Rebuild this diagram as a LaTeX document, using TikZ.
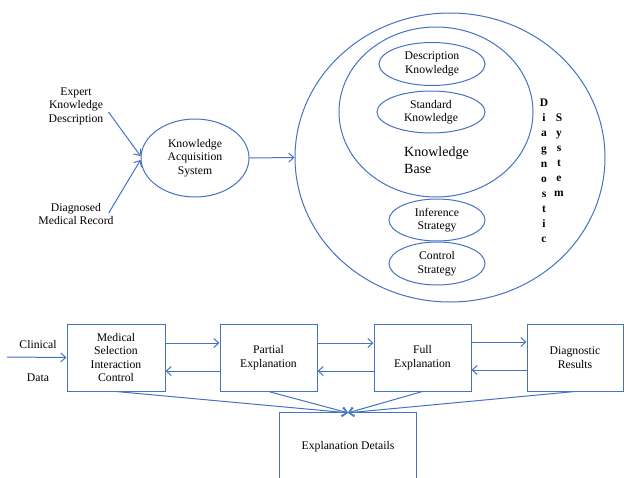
\documentclass[tikz,border=0pt]{standalone}
\usepackage{fontspec}
\setmainfont{Liberation Serif}
\usetikzlibrary{shapes.geometric,arrows.meta,calc}
\definecolor{lb}{HTML}{4472C4}
\begin{document}
\begin{tikzpicture}[x=1pt,y=-1pt,
  line/.style={draw=lb,line width=1pt},
  arr/.style={line,-{Straight Barb[length=5pt,width=9pt,line width=1pt]}},
  ell/.style={ellipse,line,inner sep=0pt,align=center,font=\fontsize{11.7}{13.5}\selectfont},
  box/.style={rectangle,line,inner sep=0pt,align=center,font=\fontsize{11.7}{13.5}\selectfont},
  lbl/.style={align=center,inner sep=0pt,font=\fontsize{11.7}{13.5}\selectfont},
  vl/.style={align=center,inner sep=0pt,font=\bfseries\fontsize{11.5}{15.1}\selectfont}]
\useasboundingbox (0,0) rectangle (624,477);
% top part
\node[lbl] (ek) at (76,106) {Expert\\Knowledge\\Description};
\node[lbl] (dm) at (76,214) {Diagnosed\\Medical Record};
\node[ell,minimum width=108pt,minimum height=78pt] (kas) at (195,158) {Knowledge\\Acquisition\\System};
\node[ell,minimum width=310pt,minimum height=289pt] (ds) at (450,157.5) {};
\node[ell,minimum width=194pt,minimum height=170pt] (kb) at (436,112) {};
\node[ell,minimum width=106pt,minimum height=43pt] (dk) at (432,64) {Description\\Knowledge};
\node[ell,minimum width=108pt,minimum height=42pt] (sk) at (431,112) {Standard\\Knowledge};
\node[lbl,align=left,anchor=west,font=\fontsize{14}{16.7}\selectfont] (kbt) at (404,160) {Knowledge\\Base};
\node[ell,minimum width=96pt,minimum height=42pt] (is) at (437,220) {Inference\\Strategy};
\node[ell,minimum width=96pt,minimum height=43pt] (cs) at (437,263.5) {Control\\Strategy};
\node[vl] (dg) at (544,171) {D\\i\\a\\g\\n\\o\\s\\t\\i\\c};
\node[vl] (sy) at (559,155) {S\\y\\s\\t\\e\\m};
\draw[arr] ($(ek.east)+(5,6)$) -- ($(kas.west)+(0,-2)$);
\draw[arr] ($(dm.east)+(-5,-1)$) -- ($(kas.west)+(0,2)$);
\draw[arr] (kas.east) -- (ds.west);
% bottom part
\node[box,minimum width=98pt,minimum height=67pt] (med) at (116,357.5) {Medical\\Selection\\Interaction\\Control};
\node[box,minimum width=97pt,minimum height=67pt] (pe) at (268.5,357.5) {Partial\\Explanation};
\node[box,minimum width=97pt,minimum height=67pt] (fe) at (422.5,357.5) {Full\\Explanation};
\node[box,minimum width=96pt,minimum height=67pt] (dr) at (575,357.5) {Diagnostic\\Results};
\node[lbl,minimum width=136pt,minimum height=68pt] (ed) at (348,447) {Explanation Details};
\draw[line] (ed.south west) -- (ed.north west) -- (ed.north east) -- (ed.south east);
\node[lbl] (cl) at (38,344) {Clinical};
\node[lbl] (da) at (38,378) {Data};
\coordinate (cin) at (7,357);
\draw[arr] (cin) -- (med.west);
\draw[arr] (med.east |- 0,343) -- (pe.west |- 0,343);
\draw[arr] (pe.west |- 0,371) -- (med.east |- 0,371);
\draw[arr] (pe.east |- 0,343) -- (fe.west |- 0,343);
\draw[arr] (fe.west |- 0,371) -- (pe.east |- 0,371);
\draw[arr] (fe.east |- 0,342) -- (dr.west |- 0,342);
\draw[arr] (dr.west |- 0,370) -- (fe.east |- 0,370);
\draw[arr] (med.south) -- (ed.north);
\draw[arr] (pe.south) -- (ed.north);
\draw[arr] (fe.south) -- (ed.north);
\draw[arr] (dr.south) -- (ed.north);
\end{tikzpicture}
\end{document}
